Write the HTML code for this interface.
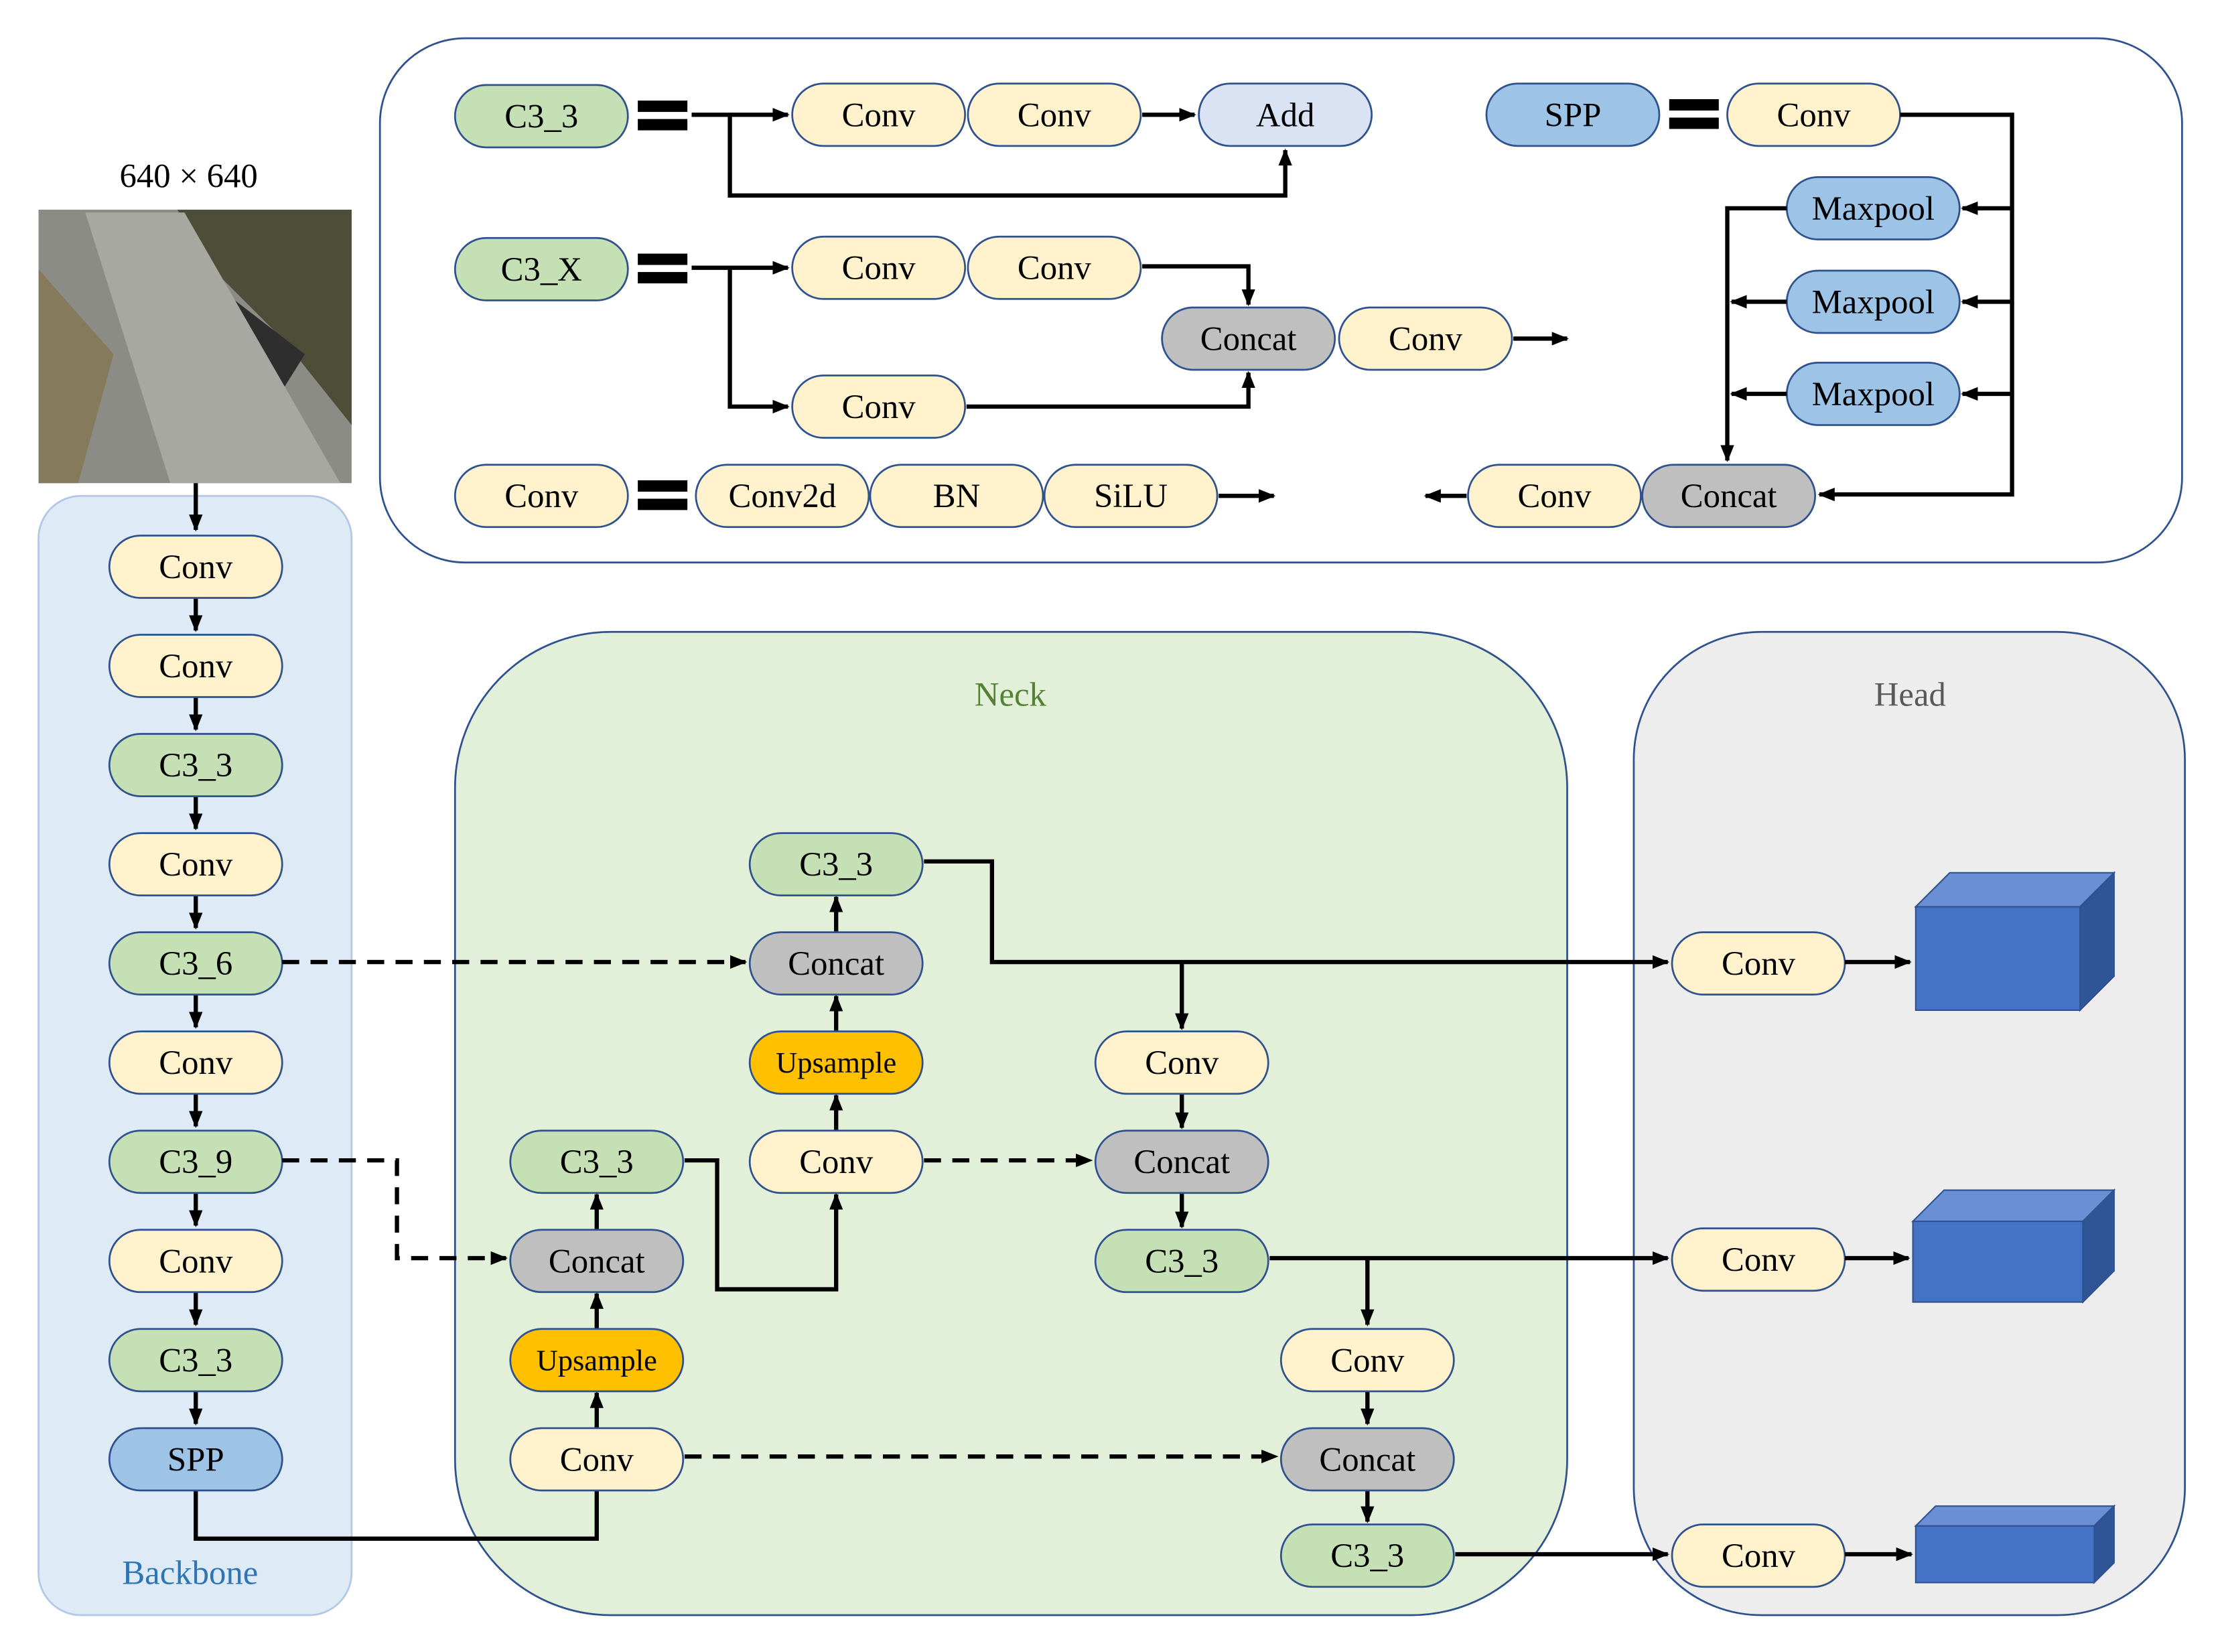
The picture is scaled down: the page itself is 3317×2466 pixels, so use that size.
<!DOCTYPE html>
<html><head><meta charset="utf-8"><style>
html,body{margin:0;padding:0;background:#fff;}
svg{display:block;font-family:"Liberation Serif","DejaVu Serif",serif;}
svg text{font-family:"Liberation Serif","DejaVu Serif",serif;font-size:24px;fill:#000;text-anchor:middle;dominant-baseline:central;}
.p{stroke:#2f528f;stroke-width:1.3;}
.y{fill:#fff2cc}.g{fill:#c5e0b4}.b{fill:#9dc3e6}.gr{fill:#bfbfbf}.a{fill:#dae3f3}.o{fill:#ffc000}
.l{stroke:#000;stroke-width:3;fill:none;}
.d{stroke:#000;stroke-width:3;fill:none;stroke-dasharray:12 8;}
</style></head><body>
<svg width="3317" height="2466" viewBox="0 0 1568 1166" xmlns="http://www.w3.org/2000/svg" font-family="Liberation Serif, serif">
<defs><marker id="m" viewBox="0 0 10 10" refX="9" refY="5" markerWidth="4" markerHeight="4" orient="auto" markerUnits="strokeWidth"><path d="M0,1 L10,5 L0,9 z" fill="#000"/></marker></defs>

<rect x="268" y="27" width="1272" height="370" rx="60" fill="#fff" stroke="#2f528f" stroke-width="1.3"/>
<rect x="27" y="350" width="221" height="790" rx="30" fill="#deebf7" stroke="#b4c7e7" stroke-width="1.3"/>
<rect x="321" y="446" width="785" height="694" rx="110" fill="#e2efd9" stroke="#2f528f" stroke-width="1.3"/>
<rect x="1153" y="446" width="389" height="694" rx="90" fill="#ededed" stroke="#2f528f" stroke-width="1.3"/>
<text font-family="Liberation Serif, serif" x="713" y="490" style="fill:#548235">Neck</text>
<text font-family="Liberation Serif, serif" x="1348" y="490" style="fill:#595959">Head</text>
<text font-family="Liberation Serif, serif" x="134" y="1110" style="fill:#2e75b6">Backbone</text>
<text font-family="Liberation Serif, serif" x="133" y="124">640 × 640</text>

<rect x="27" y="148" width="221" height="193" fill="#8c8c86"/>
<polygon points="125,148 248,148 248,300 200,240 150,190" fill="#4e4e38"/>
<polygon points="27,190 80,250 55,341 27,341" fill="#857a5c"/>
<polygon points="150,200 215,250 190,290 130,235" fill="#2e2e2e"/>
<polygon points="60,150 130,150 240,341 120,341" fill="#a8a8a2"/>

<g font-family="Liberation Serif, serif">
<rect class="p g" x="321" y="60" width="122" height="44" rx="22"/><text x="382" y="82">C3_3</text>
<rect x="450" y="71" width="35" height="8" fill="#000"/><rect x="450" y="84" width="35" height="8" fill="#000"/>
<path class="l" d="M488,81 H556" marker-end="url(#m)"/>
<rect class="p y" x="559" y="59" width="122" height="44" rx="22"/><text x="620" y="81">Conv</text>
<rect class="p y" x="683" y="59" width="122" height="44" rx="22"/><text x="744" y="81">Conv</text>
<path class="l" d="M806,81 H843" marker-end="url(#m)"/>
<rect class="p a" x="846" y="59" width="122" height="44" rx="22"/><text x="907" y="81">Add</text>
<path class="l" d="M515,81 V138 H907 V106" marker-end="url(#m)"/>

<rect class="p b" x="1049" y="59" width="122" height="44" rx="22"/><text x="1110" y="81">SPP</text>
<rect x="1178" y="70" width="35" height="8" fill="#000"/><rect x="1178" y="83" width="35" height="8" fill="#000"/>
<rect class="p y" x="1219" y="59" width="122" height="44" rx="22"/><text x="1280" y="81">Conv</text>
<path class="l" d="M1341,81 H1420 V349 H1284" marker-end="url(#m)"/>
<path class="l" d="M1420,147 H1385" marker-end="url(#m)"/>
<path class="l" d="M1420,213 H1385" marker-end="url(#m)"/>
<path class="l" d="M1420,278 H1385" marker-end="url(#m)"/>
<rect class="p b" x="1261" y="125" width="122" height="44" rx="22"/><text x="1322" y="147">Maxpool</text>
<rect class="p b" x="1261" y="191" width="122" height="44" rx="22"/><text x="1322" y="213">Maxpool</text>
<rect class="p b" x="1261" y="256" width="122" height="44" rx="22"/><text x="1322" y="278">Maxpool</text>
<path class="l" d="M1261,147 H1219 V325" marker-end="url(#m)"/>
<path class="l" d="M1261,213 H1222" marker-end="url(#m)"/>
<path class="l" d="M1261,278 H1222" marker-end="url(#m)"/>
<rect class="p gr" x="1159" y="328" width="122" height="44" rx="22"/><text x="1220" y="350">Concat</text>
<rect class="p y" x="1036" y="328" width="122" height="44" rx="22"/><text x="1097" y="350">Conv</text>
<path class="l" d="M1035,350 H1006" marker-end="url(#m)"/>

<rect class="p g" x="321" y="168" width="122" height="44" rx="22"/><text x="382" y="190">C3_X</text>
<rect x="450" y="179" width="35" height="8" fill="#000"/><rect x="450" y="192" width="35" height="8" fill="#000"/>
<path class="l" d="M488,189 H556" marker-end="url(#m)"/>
<rect class="p y" x="559" y="167" width="122" height="44" rx="22"/><text x="620" y="189">Conv</text>
<rect class="p y" x="683" y="167" width="122" height="44" rx="22"/><text x="744" y="189">Conv</text>
<path class="l" d="M806,188 H881 V215" marker-end="url(#m)"/>
<rect class="p gr" x="820" y="217" width="122" height="44" rx="22"/><text x="881" y="239">Concat</text>
<rect class="p y" x="945" y="217" width="122" height="44" rx="22"/><text x="1006" y="239">Conv</text>
<path class="l" d="M1068,239 H1106" marker-end="url(#m)"/>
<path class="l" d="M515,189 V287 H556" marker-end="url(#m)"/>
<rect class="p y" x="559" y="265" width="122" height="44" rx="22"/><text x="620" y="287">Conv</text>
<path class="l" d="M682,287 H881 V263" marker-end="url(#m)"/>

<rect class="p y" x="321" y="328" width="122" height="44" rx="22"/><text x="382" y="350">Conv</text>
<rect x="450" y="339" width="35" height="8" fill="#000"/><rect x="450" y="352" width="35" height="8" fill="#000"/>
<rect class="p y" x="491" y="328" width="122" height="44" rx="22"/><text x="552" y="350">Conv2d</text>
<rect class="p y" x="614" y="328" width="122" height="44" rx="22"/><text x="675" y="350">BN</text>
<rect class="p y" x="737" y="328" width="122" height="44" rx="22"/><text x="798" y="350">SiLU</text>
<path class="l" d="M860,350 H899" marker-end="url(#m)"/>

<path class="l" d="M138,341 V374" marker-end="url(#m)"/>
<path class="l" d="M138,422 V445" marker-end="url(#m)"/>
<path class="l" d="M138,492 V515" marker-end="url(#m)"/>
<path class="l" d="M138,562 V585" marker-end="url(#m)"/>
<path class="l" d="M138,632 V655" marker-end="url(#m)"/>
<path class="l" d="M138,702 V725" marker-end="url(#m)"/>
<path class="l" d="M138,772 V795" marker-end="url(#m)"/>
<path class="l" d="M138,842 V865" marker-end="url(#m)"/>
<path class="l" d="M138,912 V935" marker-end="url(#m)"/>
<path class="l" d="M138,982 V1005" marker-end="url(#m)"/>
<path class="l" d="M138,1052 V1086 H421 V1006" marker-end="url(#m)"/>

<rect class="p y" x="77" y="378" width="122" height="44" rx="22"/><text x="138" y="400">Conv</text>
<rect class="p y" x="77" y="448" width="122" height="44" rx="22"/><text x="138" y="470">Conv</text>
<rect class="p g" x="77" y="518" width="122" height="44" rx="22"/><text x="138" y="540">C3_3</text>
<rect class="p y" x="77" y="588" width="122" height="44" rx="22"/><text x="138" y="610">Conv</text>
<rect class="p g" x="77" y="658" width="122" height="44" rx="22"/><text x="138" y="680">C3_6</text>
<rect class="p y" x="77" y="728" width="122" height="44" rx="22"/><text x="138" y="750">Conv</text>
<rect class="p g" x="77" y="798" width="122" height="44" rx="22"/><text x="138" y="820">C3_9</text>
<rect class="p y" x="77" y="868" width="122" height="44" rx="22"/><text x="138" y="890">Conv</text>
<rect class="p g" x="77" y="938" width="122" height="44" rx="22"/><text x="138" y="960">C3_3</text>
<rect class="p b" x="77" y="1008" width="122" height="44" rx="22"/><text x="138" y="1030">SPP</text>

<path class="d" d="M199,679 H526" marker-end="url(#m)"/>
<path class="d" d="M199,819 H280 V888 H357" marker-end="url(#m)"/>
<path class="l" d="M421,1008 V983" marker-end="url(#m)"/>
<path class="l" d="M421,938 V913" marker-end="url(#m)"/>
<path class="l" d="M421,868 V843" marker-end="url(#m)"/>
<path class="l" d="M483,819 H506 V910 H590 V843" marker-end="url(#m)"/>
<path class="l" d="M590,798 V773" marker-end="url(#m)"/>
<path class="l" d="M590,728 V703" marker-end="url(#m)"/>
<path class="l" d="M590,658 V633" marker-end="url(#m)"/>
<path class="d" d="M652,819 H770" marker-end="url(#m)"/>
<path class="l" d="M652,608 H700 V679 H1177" marker-end="url(#m)"/>
<path class="l" d="M834,679 V726" marker-end="url(#m)"/>
<path class="l" d="M834,772 V796" marker-end="url(#m)"/>
<path class="l" d="M834,842 V866" marker-end="url(#m)"/>
<path class="l" d="M896,888 H1177" marker-end="url(#m)"/>
<path class="l" d="M965,888 V935" marker-end="url(#m)"/>
<path class="l" d="M965,982 V1005" marker-end="url(#m)"/>
<path class="l" d="M965,1051 V1074" marker-end="url(#m)"/>
<path class="d" d="M483,1028 H901" marker-end="url(#m)"/>
<path class="l" d="M1027,1097 H1177" marker-end="url(#m)"/>

<rect class="p g" x="360" y="798" width="122" height="44" rx="22"/><text x="421" y="820">C3_3</text>
<rect class="p gr" x="360" y="868" width="122" height="44" rx="22"/><text x="421" y="890">Concat</text>
<rect class="p o" x="360" y="938" width="122" height="44" rx="22"/><text x="421" y="960" style="font-size:21px">Upsample</text>
<rect class="p y" x="360" y="1008" width="122" height="44" rx="22"/><text x="421" y="1030">Conv</text>
<rect class="p g" x="529" y="588" width="122" height="44" rx="22"/><text x="590" y="610">C3_3</text>
<rect class="p gr" x="529" y="658" width="122" height="44" rx="22"/><text x="590" y="680">Concat</text>
<rect class="p o" x="529" y="728" width="122" height="44" rx="22"/><text x="590" y="750" style="font-size:21px">Upsample</text>
<rect class="p y" x="529" y="798" width="122" height="44" rx="22"/><text x="590" y="820">Conv</text>
<rect class="p y" x="773" y="728" width="122" height="44" rx="22"/><text x="834" y="750">Conv</text>
<rect class="p gr" x="773" y="798" width="122" height="44" rx="22"/><text x="834" y="820">Concat</text>
<rect class="p g" x="773" y="868" width="122" height="44" rx="22"/><text x="834" y="890">C3_3</text>
<rect class="p y" x="904" y="938" width="122" height="44" rx="22"/><text x="965" y="960">Conv</text>
<rect class="p gr" x="904" y="1008" width="122" height="44" rx="22"/><text x="965" y="1030">Concat</text>
<rect class="p g" x="904" y="1076" width="122" height="44" rx="22"/><text x="965" y="1098">C3_3</text>

<rect class="p y" x="1180" y="658" width="122" height="44" rx="22"/><text x="1241" y="680">Conv</text>
<rect class="p y" x="1180" y="867" width="122" height="44" rx="22"/><text x="1241" y="889">Conv</text>
<rect class="p y" x="1180" y="1076" width="122" height="44" rx="22"/><text x="1241" y="1098">Conv</text>
</g>
<path class="l" d="M1302,679 H1348" marker-end="url(#m)"/>
<path class="l" d="M1302,888 H1347" marker-end="url(#m)"/>
<path class="l" d="M1302,1097 H1349" marker-end="url(#m)"/>

<g stroke="#2f528f" stroke-width="1">
<polygon points="1352,640 1376,616 1492,616 1468,640" fill="#6a8fd4"/>
<polygon points="1468,640 1492,616 1492,689 1468,713" fill="#2f5597"/>
<rect x="1352" y="640" width="116" height="73" fill="#4472c4"/>
<polygon points="1350,862 1372,840 1492,840 1470,862" fill="#6a8fd4"/>
<polygon points="1470,862 1492,840 1492,897 1470,919" fill="#2f5597"/>
<rect x="1350" y="862" width="120" height="57" fill="#4472c4"/>
<polygon points="1352,1077 1366,1063 1492,1063 1478,1077" fill="#6a8fd4"/>
<polygon points="1478,1077 1492,1063 1492,1103 1478,1117" fill="#2f5597"/>
<rect x="1352" y="1077" width="126" height="40" fill="#4472c4"/>
</g>
</svg>
</body></html>
